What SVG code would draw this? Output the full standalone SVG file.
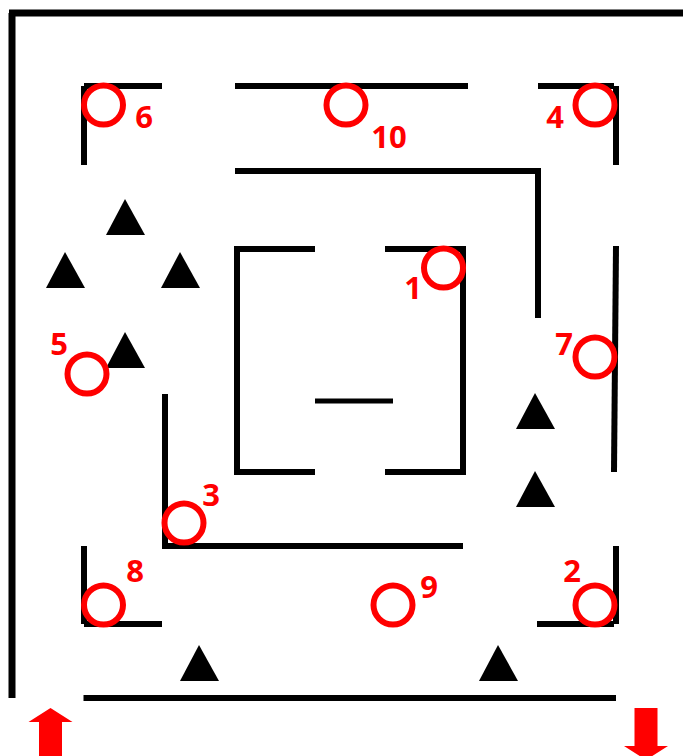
<svg xmlns="http://www.w3.org/2000/svg" width="683" height="756" viewBox="0 0 683 756">
<style>
.w{stroke:#000;stroke-width:5;fill:none}
.w2{stroke:#000;stroke-width:6;fill:none}
.c{stroke:#f00;stroke-width:6;fill:#fff}
.t{fill:#000}
.l{fill:#f00;font-family:"Open Sans","Liberation Sans",Arial,sans-serif;font-weight:700;font-size:31px;text-anchor:middle}
.a{fill:#f00}
</style>
<rect width="683" height="756" fill="#fff"/>
<g id="connectors">
<path class="w2" style="stroke-width:7" d="M12 698V13M9 13H683"/>
<path class="w2" d="M83.500 698H616"/>
<path class="w2" d="M84 165V86M84 86H162M235 86H468M538 86H614M616 86V165"/>
<path class="w2" d="M235 171H538V318"/>
<path class="w2" d="M616 246L614 472"/>
<path class="w2" d="M315 249H237V472H315M385 249H463V472H385"/>
<path class="w" d="M315 401H393"/>
<path class="w2" d="M165 394V546M162 546H463"/>
<path class="w2" d="M84 546V624M84 624H162M537 624H614M616 546V624"/>
</g>
<g id="triangles">
<polygon class="t" points="125,199 145,235 106,235"/>
<polygon class="t" points="65,252 85,288 46,288"/>
<polygon class="t" points="180,252 200,288 161,288"/>
<polygon class="t" points="125,332 145,368 106,368"/>
<polygon class="t" points="535,393 555,429 516,429"/>
<polygon class="t" points="535,471 555,507 516,507"/>
<polygon class="t" points="199,645 219,681 180,681"/>
<polygon class="t" points="498,645 518,681 479,681"/>
</g>
<g id="n1"><circle class="c" cx="443.500" cy="268" r="19.500"/><text class="l" x="413" y="299">1</text></g>
<g id="n2"><circle class="c" cx="595" cy="605" r="19.500"/><text class="l" x="572" y="582">2</text></g>
<g id="n3"><circle class="c" cx="184" cy="523" r="19.500"/><text class="l" x="211" y="506">3</text></g>
<g id="n4"><circle class="c" cx="595" cy="105" r="19.500"/><text class="l" x="555" y="128">4</text></g>
<g id="n5"><circle class="c" cx="87" cy="374" r="19.500"/><text class="l" x="59" y="355">5</text></g>
<g id="n6"><circle class="c" cx="103.500" cy="105" r="19.500"/><text class="l" x="144" y="128">6</text></g>
<g id="n7"><circle class="c" cx="595" cy="357" r="19.500"/><text class="l" x="564" y="355">7</text></g>
<g id="n8"><circle class="c" cx="103.500" cy="605" r="19.500"/><text class="l" x="135" y="582">8</text></g>
<g id="n9"><circle class="c" cx="393" cy="605" r="19.500"/><text class="l" x="429" y="598">9</text></g>
<g id="n10"><circle class="c" cx="346" cy="105" r="19.500"/><text class="l" x="389" y="148">10</text></g>
<g id="entrance"><polygon class="a" points="50.500,708 72.500,722 62,722 62,756 39,756 39,722 28.500,722"/></g>
<g id="exit"><polygon class="a" points="634.500,708 657.500,708 657.500,746 668,746 646,760 624,746 634.500,746"/></g>
</svg>
